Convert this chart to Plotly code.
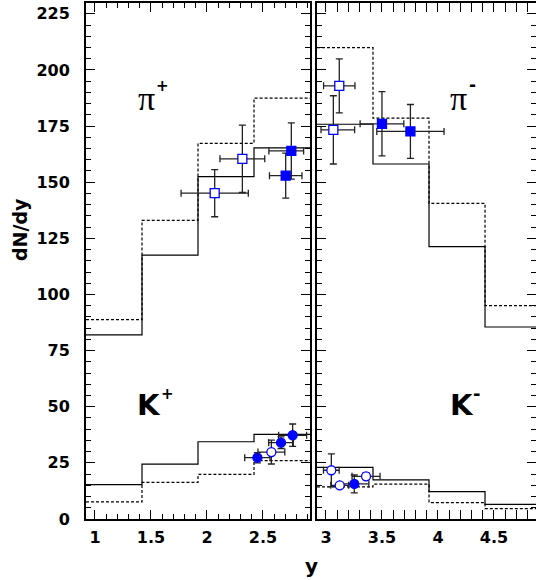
import plotly.graph_objects as go

# ---------------- data ----------------
edges_left = [0.92, 1.42, 1.92, 2.42, 2.92]
edges_right = [2.92, 3.42, 3.92, 4.42, 4.92]

pip_solid = [82.0, 117.5, 152.5, 165.3]
pip_dash = [88.8, 133.0, 167.3, 187.4]
pim_solid = [175.8, 158.1, 121.3, 85.5]
pim_dash = [209.9, 178.5, 140.6, 95.0]
kp_solid = [15.3, 24.4, 34.4, 37.7]
kp_dash = [7.6, 16.3, 19.9, 26.0]
km_solid = [23.0, 17.4, 12.2, 6.5]
km_dash = [14.3, 15.5, 7.3, 4.6]

# pi+ points
pip_open_x = [2.069, 2.316]
pip_open_y = [145.1, 160.4]
pip_open_ex = [0.30, 0.20]
pip_open_ey = [10.5, 15.0]

pip_fill_x = [2.703, 2.753]
pip_fill_y = [152.9, 163.9]
pip_fill_exp = [0.145, 0.11]
pip_fill_exm = [0.145, 0.20]
pip_fill_ey = [10.0, 12.5]

# pi- points
pim_open_x = [3.119, 3.066]
pim_open_y = [192.9, 173.3]
pim_open_exp = [0.14, 0.19]
pim_open_exm = [0.14, 0.11]
pim_open_ey = [12.0, 15.2]

pim_fill_x = [3.50, 3.754]
pim_fill_y = [176.0, 172.6]
pim_fill_ex = [0.195, 0.30]
pim_fill_ey = [14.3, 12.0]

# K+ points
kp_fill_x = [2.450, 2.661, 2.765]
kp_fill_y = [27.3, 34.0, 37.3]
kp_fill_ex = [0.113, 0.11, 0.125]
kp_fill_ey = [2.3, 2.6, 5.0]

kp_open_x = [2.575]
kp_open_y = [29.8]
kp_open_ex = [0.12]
kp_open_ey = [5.3]

# K- points
km_open_x = [3.048, 3.123, 3.358]
km_open_y = [21.7, 15.0, 19.0]
km_open_ex = [0.07, 0.08, 0.125]
km_open_ey = [7.3, 1.0, 1.5]

km_fill_x = [3.253]
km_fill_y = [15.6]
km_fill_ex = [0.13]
km_fill_ey = [4.0]

y_ticks = [0, 25, 50, 75, 100, 125, 150, 175, 200, 225]

# ---------------- figure ----------------
fig = go.Figure()
BLUE = "#0000ff"
ERR = "#222222"


def hist(edges, vals, xa, ya, dash):
    fig.add_trace(go.Scatter(
        x=list(edges), y=list(vals) + [vals[-1]], mode="lines",
        line=dict(shape="hv", color="black", width=1.2, dash=dash),
        xaxis=xa, yaxis=ya, showlegend=False, hoverinfo="skip"))


def pts(x, y, exp, exm, ey, symbol, fill, xa, ya):
    fig.add_trace(go.Scatter(
        x=x, y=y, mode="markers",
        marker=dict(symbol=symbol, size=9, color=fill,
                    line=dict(color=BLUE, width=1.3)),
        error_x=dict(type="data", symmetric=False, array=exp, arrayminus=exm,
                     color=ERR, thickness=1.3, width=3.5),
        error_y=dict(type="data", array=ey, color=ERR, thickness=1.3, width=3.5),
        xaxis=xa, yaxis=ya, showlegend=False, hoverinfo="skip"))


for vals, d in [(pip_solid, "solid"), (pip_dash, "3px,2px"),
                (kp_solid, "solid"), (kp_dash, "3px,2px")]:
    hist(edges_left, vals, "x", "y", d)
for vals, d in [(pim_solid, "solid"), (pim_dash, "3px,2px"),
                (km_solid, "solid"), (km_dash, "3px,2px")]:
    hist(edges_right, vals, "x2", "y2", d)

pts(pip_open_x, pip_open_y, pip_open_ex, pip_open_ex, pip_open_ey, "square", "white", "x", "y")
pts(pip_fill_x, pip_fill_y, pip_fill_exp, pip_fill_exm, pip_fill_ey, "square", BLUE, "x", "y")
pts(kp_fill_x, kp_fill_y, kp_fill_ex, kp_fill_ex, kp_fill_ey, "circle", BLUE, "x", "y")
pts(kp_open_x, kp_open_y, kp_open_ex, kp_open_ex, kp_open_ey, "circle", "white", "x", "y")

pts(pim_open_x, pim_open_y, pim_open_exp, pim_open_exm, pim_open_ey, "square", "white", "x2", "y2")
pts(pim_fill_x, pim_fill_y, pim_fill_ex, pim_fill_ex, pim_fill_ey, "square", BLUE, "x2", "y2")
pts(km_fill_x, km_fill_y, km_fill_ex, km_fill_ex, km_fill_ey, "circle", BLUE, "x2", "y2")
pts(km_open_x, km_open_y, km_open_ex, km_open_ex, km_open_ey, "circle", "white", "x2", "y2")

TF = dict(family="DejaVu Sans", size=16, color="black", weight="bold")
YR = [0, 229.8]

xcommon = dict(tick0=1, dtick=0.5, ticks="inside", ticklen=9, tickwidth=1.3,
               tickcolor="black", showline=True, linewidth=2, linecolor="black",
               mirror="allticks", showgrid=False, zeroline=False, tickfont=TF,
               ticklabelstandoff=3,
               minor=dict(tick0=1, dtick=0.1, ticks="inside", ticklen=5,
                          tickwidth=1, tickcolor="black"))
ycommon = dict(range=YR, tickvals=y_ticks, ticks="inside", ticklen=9, tickwidth=1.3,
               tickcolor="black", showgrid=False, zeroline=False, tickfont=TF,
               minor=dict(dtick=5, ticks="inside", ticklen=5, tickwidth=1,
                          tickcolor="black"))

fig.update_layout(
    width=536, height=580,
    margin=dict(l=86, r=0, t=3, b=61),
    plot_bgcolor="white", paper_bgcolor="white",
    xaxis=dict(domain=[0, 0.4978], range=[0.92, 2.92], anchor="y", **xcommon),
    xaxis2=dict(domain=[0.5133, 1], range=[2.92, 4.875], anchor="y2", **xcommon),
    yaxis=dict(domain=[0, 1], anchor="x", showline=True, linewidth=2, linecolor="black",
               mirror="allticks", ticklabelstandoff=11, **ycommon),
    yaxis2=dict(domain=[0, 1], anchor="x2", showline=True, linewidth=2, linecolor="black",
                mirror=False, showticklabels=False, **ycommon),
    yaxis3=dict(overlaying="y2", anchor="x2", side="right", showline=False,
                showticklabels=False, **ycommon),
)

# invisible trace to activate yaxis3 (inward ticks on the right edge)
fig.add_trace(go.Scatter(x=[None], y=[None], xaxis="x2", yaxis="y3",
                         showlegend=False, hoverinfo="skip"))

SERIF = dict(family="Liberation Serif", size=34, color="black")
BOLD = lambda s: dict(family="DejaVu Sans", size=s, color="black", weight="bold")

ann = [
    dict(text="π", x=0.1344, y=0.8149, font=SERIF),
    dict(text="+", x=0.1689, y=0.8391, font=BOLD(15)),
    dict(text="K", x=0.1411, y=0.2209, font=BOLD(29)),
    dict(text="+", x=0.1800, y=0.2422, font=BOLD(15)),
    dict(text="π", x=0.8278, y=0.8149, font=SERIF),
    dict(text="-", x=0.8578, y=0.8411, font=BOLD(17)),
    dict(text="K", x=0.8356, y=0.2209, font=BOLD(29)),
    dict(text="-", x=0.8667, y=0.2432, font=BOLD(18)),
    dict(text="dN/dy", x=-0.1467, y=0.562, textangle=-90, font=BOLD(19)),
    dict(text="y", x=0.5022, y=-0.0911, font=BOLD(20)),
]
for a in ann:
    fig.add_annotation(xref="paper", yref="paper", xanchor="center", yanchor="middle",
                       showarrow=False, **a)

fig.write_html("out.html", config={"displayModeBar": False},
               post_script="document.body.style.margin='0';document.body.style.padding='0';")
